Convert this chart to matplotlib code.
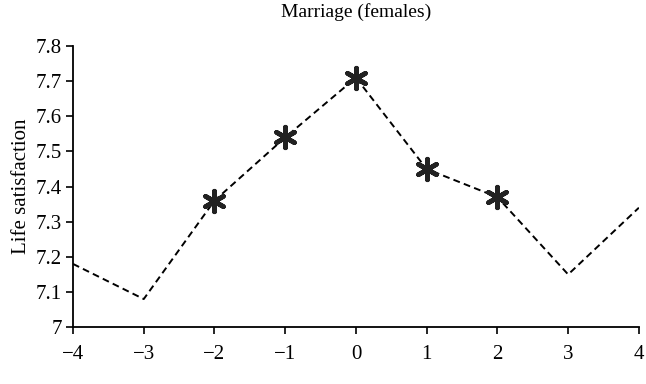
import matplotlib
matplotlib.use('Agg')
import matplotlib.pyplot as plt

# years relative to marriage
years = [-4, -3, -2, -1, 0, 1, 2, 3, 4]
life_sat = [7.18, 7.08, 7.36, 7.54, 7.71, 7.45, 7.37, 7.15, 7.34]
significant = [False, False, True, True, True, True, True, False, False]

y_ticks = [7, 7.1, 7.2, 7.3, 7.4, 7.5, 7.6, 7.7, 7.8]
y_labels = ['7', '7.1', '7.2', '7.3', '7.4', '7.5', '7.6', '7.7', '7.8']
x_ticks = [-4, -3, -2, -1, 0, 1, 2, 3, 4]
x_labels = ['\u22124', '\u22123', '\u22122', '\u22121', '0', '1', '2', '3', '4']

plt.rcParams['font.family'] = ['Liberation Serif', 'DejaVu Serif']

fig = plt.figure(figsize=(6.46, 3.84), dpi=100)
ax = fig.add_axes([0.113, 0.148, 0.876, 0.732])

ax.plot(years, life_sat, color='black', linestyle=(0, (3.5, 2.2)), linewidth=1.4)

sx = [x for x, s in zip(years, significant) if s]
sy = [y for y, s in zip(life_sat, significant) if s]
ax.scatter(sx, sy, marker=(6, 2, 0), s=220, color='#222222', linewidths=3.4, zorder=3)

ax.set_xlim(-4, 4)
ax.set_ylim(7, 7.8)
ax.set_xticks(x_ticks)
ax.set_xticklabels(x_labels)
ax.set_yticks(y_ticks)
ax.set_yticklabels(y_labels)
ax.tick_params(labelsize=15, direction='out', length=5, width=1.2, pad=3)
ax.tick_params(axis='x', pad=8)
ax.spines[['top', 'right']].set_visible(False)
ax.spines[['left', 'bottom']].set_linewidth(1.3)

ax.set_title('Marriage (females)', fontsize=14, pad=21)
ax.set_ylabel('Life satisfaction', fontsize=15, labelpad=3)

fig.savefig('out.png', dpi=100)
